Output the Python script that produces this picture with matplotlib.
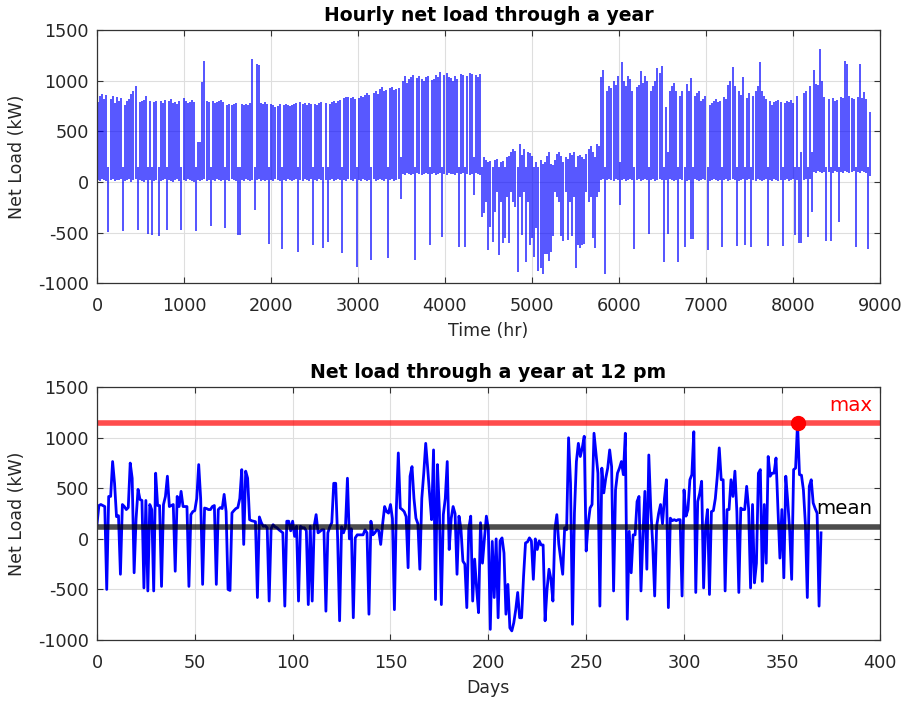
import numpy as np
import matplotlib
matplotlib.use('Agg')
import matplotlib.pyplot as plt

# net load at 12 pm, one value per day (kW)
noon_load = [
    140, 330, 340, 330, 320, -500, 420, 420, 765, 550,
    220, 230, -350, 340, 320, 290, 310, 750, 600, -335,
    200, 490, 390, 380, -485, 380, -515, 340, 290, -515,
    650, 330, 330, -470, 340, 420, 620, 320, 330, 340,
    -320, 420, 320, 470, 320, 320, 320, -470, 240, 270,
    280, 400, 735, 400, -450, 305, 300, 290, 290, 320,
    330, -450, 290, 310, 300, 440, 270, -500, -510, 257,
    280, 300, 310, 400, 685, -55, 670, 600, 190, 180,
    175, 170, -580, 217, 160, 125, 130, 110, -615, 100,
    140, 120, 110, 90, 75, 60, -665, 175, 175, 80,
    175, 25, 125, -615, 125, 110, 110, 80, -650, 125,
    -615, 125, 240, 60, 75, 90, 90, -715, 60, 120,
    160, 550, 550, 0, -810, 120, 60, 120, 600, 0,
    100, -780, 10, 40, 40, 40, 40, 90, 60, -745,
    175, 40, 60, 90, 80, -55, 150, 320, 270, 255,
    340, 200, -700, 300, 850, 305, 290, 270, 220, -285,
    620, 715, 400, 205, 150, -300, 400, 650, 945, 700,
    435, 190, 880, -600, 735, 270, -650, 240, 400, 765,
    -105, 200, 320, 250, -350, 225, 100, -220, -250, -680,
    100, 225, -615, -200, -485, -730, 160, -240, 0, 225,
    100, -895, -25, -580, 0, -780, -20, 10, -140, -745,
    -450, -880, -910, -830, -700, -530, -780, -780, -370, -40,
    -30, 10, -20, -400, 0, -105, -20, -60, -60, -810,
    -500, -300, -400, -615, 90, 240, -50, -200, -350, 110,
    90, 1000, 550, -845, 255, 765, 945, 815, 900, 1015,
    -120, 150, 305, 340, 1045, 850, 650, -665, 700, 455,
    600, 700, 880, 715, -515, 485, 650, 700, 765, 635,
    1045, -795, 75, -335, 40, 40, 370, 420, -515, 40,
    470, -300, 830, 300, -55, -565, 125, 250, 340, 150,
    400, 585, -680, 205, 180, 190, 180, 190, 190, -565,
    485, 225, 290, 585, 635, 1060, -530, 370, 450, 570,
    -485, 120, 290, -550, 270, 280, 400, 620, 900, 585,
    585, -515, 290, 290, 585, 420, 670, 270, -530, 305,
    290, 290, 520, 300, -485, 340, -435, -240, 650, 685,
    -420, 340, -240, 815, 620, 650, 650, 800, 290, -190,
    290, -385, 620, 370, 75, -400, 685, 700, 1145, 635,
    630, 485, 150, -580, 520, 585, 355, 300, 255, -665,
    60,
]

# hourly panel, read as the daily peak and daily low of each day (kW)
daily_high = [
    790, 850, 870, 820, 860, 150, 820, 850, 780, 840,
    800, 830, 150, 760, 800, 820, 870, 900, 950, 150,
    790, 800, 810, 850, 150, 800, 150, 790, 800, 150,
    800, 780, 810, 150, 800, 820, 780, 790, 770, 800,
    150, 830, 800, 780, 790, 810, 790, 150, 395, 400,
    990, 1200, 800, 790, 150, 800, 780, 790, 800, 810,
    790, 150, 760, 770, 760, 770, 780, 150, 150, 770,
    760, 770, 760, 780, 1215, 150, 1170, 1160, 780, 770,
    790, 770, 150, 770, 760, 740, 750, 770, 150, 760,
    770, 760, 750, 760, 770, 780, 150, 790, 770, 780,
    760, 780, 770, 150, 770, 760, 780, 790, 150, 780,
    150, 770, 790, 800, 780, 800, 810, 150, 830, 840,
    840, 830, 840, 820, 150, 830, 850, 840, 860, 880,
    860, 150, 880, 900, 870, 920, 940, 900, 910, 150,
    930, 940, 910, 920, 930, 250, 1000, 1050, 980, 1020,
    1040, 1060, 150, 1030, 1050, 1020, 1000, 1040, 1050, 150,
    1010, 1020, 1060, 1040, 1090, 150, 1060, 1080, 1040, 1030,
    1000, 1050, 1020, 150, 1070, 1060, 150, 1050, 1080, 1070,
    250, 1060, 1040, 1070, 150, 250, 220, 200, 210, 150,
    220, 230, 150, 200, 210, 150, 250, 260, 300, 330,
    310, 150, 380, 270, 330, 150, 300, 290, 260, 150,
    200, 150, 220, 180, 200, 260, 300, 180, 170, 220,
    280, 300, 260, 200, 250, 230, 290, 270, 300, 150,
    260, 270, 250, 230, 280, 330, 360, 300, 250, 380,
    360, 1035, 1110, 150, 900, 950, 930, 1000, 960, 1050,
    200, 1190, 1000, 950, 1050, 1020, 900, 150, 940, 960,
    1100, 980, 1050, 1000, 150, 900, 950, 1000, 1125, 1080,
    1145, 150, 740, 300, 900, 950, 980, 900, 150, 850,
    900, 150, 970, 900, 1030, 150, 850, 880, 900, 800,
    820, 850, 150, 760, 780, 800, 820, 790, 800, 150,
    840, 820, 960, 1000, 1135, 950, 150, 900, 860, 1035,
    150, 830, 880, 150, 850, 900, 950, 1190, 900, 850,
    820, 150, 800, 760, 790, 800, 810, 790, 150, 780,
    800, 790, 810, 780, 150, 850, 150, 300, 880, 900,
    150, 950, 300, 1105, 970, 960, 1315, 1000, 840, 150,
    820, 150, 830, 800, 810, 150, 840, 830, 1200, 1170,
    850, 830, 820, 150, 840, 1170, 830, 890, 820, 150,
    690,
]
daily_low = [
    20, 10, 30, 20, 10, -495, 20, 30, 10, 20,
    20, 30, -480, 10, 20, 30, 0, 20, 30, -475,
    20, 10, 0, 20, -510, 20, -525, 10, 20, -530,
    10, 20, 30, -470, 20, 10, 0, 20, 30, 10,
    -470, 20, 10, 30, 20, 10, 0, -480, 20, 10,
    20, 30, 10, 20, -440, 20, 10, 30, 20, 10,
    20, -450, 20, 10, 30, 20, 10, -525, -520, 20,
    10, 30, 20, 10, 20, -280, 20, 30, 10, 20,
    10, 20, -610, 20, 10, 30, 20, 10, -660, 20,
    10, 30, 20, 10, 20, 30, -690, 20, 10, 30,
    20, 10, 30, -620, 20, 10, 30, 20, -655, 20,
    -590, 20, 30, 10, 20, 30, 20, -705, 20, 10,
    30, 20, 10, 30, -840, 20, 10, 30, 20, 10,
    20, -770, 30, 10, 20, 30, 20, 10, 30, -755,
    20, 30, 10, 20, 30, -165, 80, 70, 90, 80,
    70, 80, -775, 90, 80, 70, 80, 90, 80, -625,
    80, 90, 70, 80, 90, -545, 80, 70, 90, 80,
    80, 70, 90, -640, 80, 90, -640, 80, 70, 80,
    -130, 90, 80, 70, -345, -310, -200, -675, -445, -590,
    -300, -100, -725, -200, -605, -550, -150, -600, -100, -200,
    -250, -890, -150, -525, -100, -790, -200, -625, -555, -745,
    -450, -880, -855, -905, -715, -710, -780, -690, -530, -100,
    -150, -200, -530, -585, -100, -575, -200, -530, -150, -855,
    -625, -655, -620, -615, -100, -200, -150, -550, -655, -150,
    -100, 20, 30, -905, 20, 30, 20, 10, 30, 20,
    -230, 20, 30, 10, 20, 30, 20, -665, 20, 30,
    10, 20, 30, 20, -515, 20, 30, 10, 20, 30,
    20, -795, 20, -510, 30, 20, 10, 20, -790, 30,
    20, -640, 10, 20, -560, -565, 30, 20, 10, 20,
    30, 20, -675, 10, 20, 30, 20, 10, 20, -640,
    20, 30, 10, 20, 30, 20, -630, 10, 20, 30,
    -620, 20, 30, -640, 20, 10, 30, 20, 10, 20,
    30, -630, 20, 10, 30, 20, 10, 20, -635, 20,
    30, 10, 20, 30, -520, 20, -605, -600, 20, 30,
    -545, 30, -300, 100, 90, 110, 100, 90, 100, -585,
    100, -580, 90, 110, 100, -400, 100, 90, 110, 100,
    90, 100, 110, -640, 100, 90, 110, 100, 90, -665,
    60,
]
mean_load = 115   # level of the black 'mean' line

days = np.arange(len(noon_load))
day_hour = days * 24 + 12

plt.rcParams['font.family'] = ['DejaVu Sans']
plt.rcParams['axes.unicode_minus'] = False

fig = plt.figure(figsize=(9.06, 7.06), dpi=100)
ax1 = fig.add_axes([0.107, 0.599, 0.864, 0.358])
ax2 = fig.add_axes([0.107, 0.0935, 0.864, 0.358])

for ax in (ax1, ax2):
    ax.grid(True, color='#dedede', linewidth=0.8)
    ax.set_axisbelow(True)
    ax.tick_params(direction='in', top=True, right=True, length=4.5,
                   color='#333333', labelsize=12.7, labelcolor='#262626')
    ax.tick_params(axis='x', pad=10)
    ax.tick_params(axis='y', pad=6)
    for s in ax.spines.values():
        s.set_color('#333333')
        s.set_linewidth(0.9)
    ax.set_ylim(-1000, 1500)
    ax.set_yticks(np.arange(-1000, 1501, 500))
    ax.set_ylabel('Net Load (kW)', fontsize=12.5, color='#262626')
    ax.yaxis.set_label_coords(-0.091, 0.5)

# each day drawn as a stroke spanning its low and peak
ax1.vlines(day_hour, daily_low, daily_high, color='#0000ff', linewidth=1.1, alpha=0.85)
ax1.set_xlim(0, 9000)
ax1.set_xticks(np.arange(0, 9001, 1000))
ax1.set_xlabel('Time (hr)', fontsize=12.5, color='#262626', labelpad=5)
ax1.set_title('Hourly net load through a year', fontsize=13.6,
              fontweight='bold', pad=7)

ax2.plot(days, noon_load, color='#0000ff', linewidth=2)
max_day = int(np.argmax(noon_load))
max_load = noon_load[max_day]
ax2.axhline(max_load, color='#ff0000', linewidth=4, alpha=0.7)
ax2.axhline(mean_load, color='#000000', linewidth=4, alpha=0.7)
ax2.plot(max_day, max_load, 'o', color='#ff0000', markersize=10)
ax2.text(396, max_load + 175, 'max', color='#ff0000', fontsize=14.3,
         ha='right', va='center')
ax2.text(396, mean_load + 190, 'mean', color='#000000', fontsize=14.3,
         ha='right', va='center')
ax2.set_xlim(0, 400)
ax2.set_xticks(np.arange(0, 401, 50))
ax2.set_xlabel('Days', fontsize=12.5, color='#262626', labelpad=5)
ax2.set_title('Net load through a year at 12 pm', fontsize=13.6,
              fontweight='bold', pad=7)

fig.savefig('out.png', dpi=100)
